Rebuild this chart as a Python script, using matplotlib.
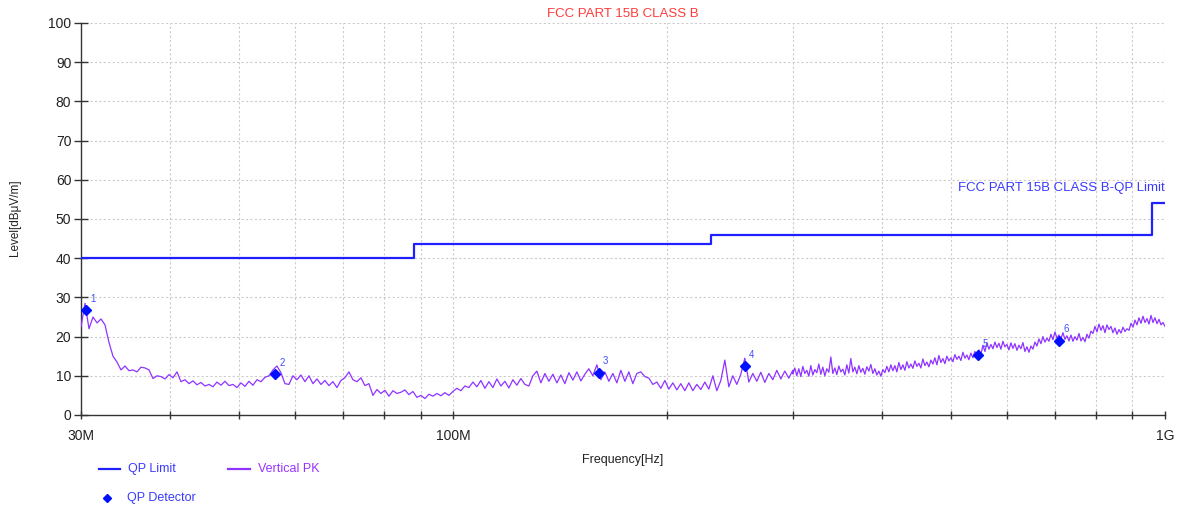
import numpy as np
import matplotlib
matplotlib.use("Agg")
import matplotlib.pyplot as plt
from matplotlib.lines import Line2D

plt.rcParams['font.family'] = ['Liberation Sans', 'DejaVu Sans']

# ---------------- data ----------------
title = "FCC PART 15B CLASS B"
limit_name = "FCC PART 15B CLASS B-QP Limit"

# QP limit (MHz, dBuV/m) step edges
limit_freq = [30, 88, 88, 230, 230, 960, 960, 1000]
limit_level = [40, 40, 43.5, 43.5, 46, 46, 54, 54]

# QP detector points
qp_freq = [30.5, 56.2, 160.1, 256.7, 546.7, 710.0]
qp_level = [26.7, 10.5, 10.8, 12.4, 15.3, 19.0]
qp_labels = ["1", "2", "3", "4", "5", "6"]

# Vertical PK trace
# 30 MHz .. 300 MHz (sampled evenly on log-frequency)
pk_level_low = [
    22.5, 28.5, 22.0, 25.0, 23.5, 24.5, 23.0, 18.5, 15.0, 13.5,
    11.5, 12.5, 11.3, 11.5, 11.0, 12.2, 12.0, 11.5, 9.3, 10.0,
    9.8, 9.2, 10.3, 9.5, 11.0, 8.5, 9.0, 8.0, 8.7, 7.7,
    8.3, 7.4, 7.8, 7.2, 8.4, 7.6, 8.6, 7.5, 7.8, 7.0,
    8.2, 7.3, 8.6, 7.6, 9.0, 8.5, 9.6, 10.0, 11.5, 12.5,
    10.8, 8.0, 7.8, 10.0, 9.0, 10.2, 8.5, 10.0, 8.0, 9.2,
    7.8, 8.8, 7.5, 8.5, 7.0, 8.8, 9.5, 11.0, 9.0, 8.5,
    9.5, 7.5, 8.0, 5.0, 6.5, 5.5, 6.3, 4.8, 6.2, 5.5,
    5.8, 6.4, 5.2, 6.0, 4.5, 5.0, 4.2, 5.3, 4.8, 5.5,
    4.9, 5.7, 5.0, 6.0, 6.8, 6.2, 7.4, 7.0, 8.4, 7.2,
    8.8, 6.8, 8.5, 7.0, 9.2, 7.4, 8.6, 6.9, 9.0, 7.6,
    9.3, 7.8, 7.4, 10.0, 11.2, 8.2, 10.6, 8.6, 10.4, 8.2,
    10.2, 8.0, 10.8, 8.9, 11.0, 8.7, 10.4, 11.8, 10.0, 12.8,
    9.0, 11.0, 8.6, 10.6, 8.2, 11.4, 8.6, 11.0, 8.0, 10.6,
    11.0, 9.8, 9.4, 7.8, 8.4, 6.8, 8.8, 6.6, 8.2, 6.4,
    8.0, 6.2, 8.2, 6.2, 7.8, 6.5, 8.4, 6.6, 10.0, 6.2,
    8.8, 14.0, 7.2, 10.0, 7.8, 10.4, 14.5, 8.4, 10.6, 8.6,
    10.9, 8.3, 10.6, 9.0, 11.4, 9.2, 11.2, 9.4, 11.4,
]
# 300 MHz .. 1 GHz (denser sweep)
pk_level_high = [
    10.5, 12.0, 10.0, 11.8, 9.8, 12.4, 10.6, 11.4, 9.9, 12.6,
    10.2, 11.6, 10.8, 13.0, 10.4, 12.2, 10.0, 11.8, 10.9, 14.8,
    10.6, 12.0, 10.3, 12.5, 11.0, 11.7, 10.2, 12.8, 10.7, 14.4,
    11.0, 12.2, 10.5, 12.6, 10.9, 11.9, 10.4, 12.3, 11.2, 12.9,
    10.6, 11.8, 10.2, 11.2, 9.9, 11.6, 10.8, 12.4, 11.0, 12.8,
    11.3, 12.6, 11.0, 13.4, 11.6, 12.8, 11.4, 13.6, 12.0, 13.0,
    11.9, 13.8, 12.4, 13.2, 12.0, 14.3, 12.6, 13.5, 12.3, 14.0,
    13.0, 14.6, 12.8, 15.2, 13.4, 14.4, 13.1, 15.0, 13.8, 14.6,
    13.6, 15.4, 14.2, 15.0, 13.9, 16.0, 14.5, 15.3, 14.1, 15.8,
    14.6, 16.2, 15.0, 16.6, 15.4, 17.8, 16.2, 18.4, 16.8, 18.0,
    16.9, 18.6, 17.2, 18.3, 16.8, 18.8, 17.4, 18.0, 16.6, 18.4,
    17.0, 18.2, 16.5, 17.8, 16.9, 18.5, 16.2, 17.4, 16.0, 17.6,
    16.8, 18.6, 17.6, 19.4, 18.2, 20.0, 18.6, 19.6, 18.8, 20.6,
    19.2, 21.2, 19.6, 20.4, 19.4, 21.0, 19.3, 20.2, 18.9, 20.4,
    18.8, 20.0, 19.1, 20.8, 18.9, 19.8, 18.7, 20.6, 19.6, 21.4,
    20.8, 22.6, 21.2, 23.2, 21.6, 22.8, 21.0, 23.0, 21.8, 22.6,
    21.0, 22.2, 20.6, 21.8, 20.9, 22.4, 21.3, 22.0, 21.6, 23.4,
    22.4, 24.2, 23.0, 24.8, 23.4, 25.2, 23.6, 24.6, 23.2, 25.4,
    23.6, 24.8, 23.3, 24.4, 23.0, 23.6, 22.6,
]
pk_freq = np.concatenate([np.geomspace(30, 300, len(pk_level_low)),
                          np.geomspace(300, 1000, len(pk_level_high))])
pk_level = np.concatenate([pk_level_low, pk_level_high])

y_ticks = [0, 10, 20, 30, 40, 50, 60, 70, 80, 90, 100]
x_grid = [40, 50, 60, 70, 80, 90, 100, 200, 300, 400, 500, 600, 700, 800, 900, 1000]
x_labels = {30: "30M", 100: "100M", 1000: "1G"}

# ---------------- styles ----------------
c_limit = "#1f1fff"
c_pk = "#8f33ff"
c_qp = "#0010ff"
c_text_blue = "#3a3aff"

fig = plt.figure(figsize=(11.8, 5.08), dpi=100)
ax = fig.add_axes([81/1180, 1 - 415/508, (1165 - 81)/1180, (415 - 23)/508])

ax.set_xscale("log")
ax.set_xlim(30, 1000)
ax.set_ylim(0, 100)

ax.plot(pk_freq, pk_level, color=c_pk, lw=0.9, zorder=3)
ax.plot(limit_freq, limit_level, color=c_limit, lw=1.6, zorder=4)
ax.plot(qp_freq, qp_level, linestyle="none", marker="D", ms=5.5, color=c_qp, zorder=5)
for f, l, t in zip(qp_freq, qp_level, qp_labels):
    ax.annotate(t, (f, l), xytext=(3, 6), textcoords="offset points",
                fontsize=7, color="#3f4fff", zorder=6)

ax.text(1000, 54 + 2.4, limit_name, ha="right", va="bottom",
        fontsize=9.5, color=c_text_blue)

# ticks
all_x = [30] + x_grid
ax.set_xticks(all_x)
ax.set_xticklabels([x_labels.get(v, "") for v in all_x])
ax.xaxis.set_minor_locator(matplotlib.ticker.NullLocator())
ax.set_yticks(y_ticks)
ax.tick_params(axis="y", direction="inout", length=10, width=1, color="#333333",
               labelsize=10, pad=2, labelcolor="#222222")
ax.tick_params(axis="x", direction="inout", length=6, width=1, color="#333333",
               labelsize=10, pad=7, labelcolor="#222222")

# grid
for v in x_grid:
    ax.axvline(v, color="#cccccc", lw=0.8, ls=(0, (2, 2)), zorder=1)
for v in y_ticks[1:]:
    ax.axhline(v, color="#cccccc", lw=0.8, ls=(0, (2, 2)), zorder=1)

for s in ["top", "right"]:
    ax.spines[s].set_visible(False)
for s in ["left", "bottom"]:
    ax.spines[s].set_color("#333333")
    ax.spines[s].set_linewidth(1.0)

fig.text(623/1180, 1 - 14/508, title, ha="center", va="center",
         fontsize=9.5, color="#ff3b3b")
fig.text(15/1180, 1 - 218/508, "Level[dBμV/m]", rotation=90,
         ha="center", va="center", fontsize=8.5, color="#222222")
fig.text(623/1180, 1 - 460/508, "Frequency[Hz]", ha="center", va="center",
         fontsize=9, color="#222222")

# legend (manual)
def fx(px):
    return px / 1180
def fy(py):
    return 1 - py / 508

fig.add_artist(Line2D([fx(99), fx(120)], [fy(469), fy(469)], color=c_limit, lw=1.6))
fig.text(fx(128), fy(469), "QP Limit", ha="left", va="center", fontsize=9, color=c_text_blue)
fig.add_artist(Line2D([fx(228), fx(250)], [fy(469), fy(469)], color=c_pk, lw=1.6))
fig.text(fx(258), fy(469), "Vertical PK", ha="left", va="center", fontsize=9, color="#9933ff")
fig.add_artist(Line2D([fx(107)], [fy(498)], marker="D", ms=4, color=c_qp, ls="none"))
fig.text(fx(127), fy(498), "QP Detector", ha="left", va="center", fontsize=9, color=c_text_blue)

fig.savefig("out.png", dpi=100)
